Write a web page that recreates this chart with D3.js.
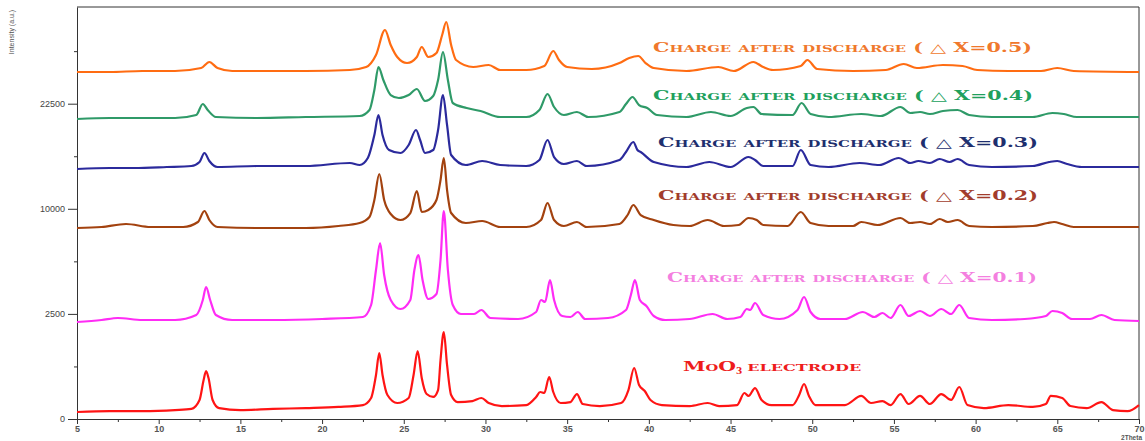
<!DOCTYPE html>
<html>
<head>
<meta charset="utf-8">
<script src="https://cdn.jsdelivr.net/npm/d3@7"></script>
<style>
  body { margin: 0; background: #fff; }
  svg { display: block; }
</style>
</head>
<body>
<div id="chart"></div>
<script>
// ---- data (2Theta, intensity a.u.) ----
let moo3Theta = [5, 7, 9, 11, 12, 12.5, 12.75, 12.9, 13.05, 13.3, 13.7, 15, 17, 19, 21, 22.5, 23, 23.3, 23.5, 23.7, 24, 24.6, 25.3, 25.6, 25.85, 26.1, 26.4, 26.8, 27.1, 27.25, 27.45, 27.65, 27.9, 28.3, 29.2, 29.75, 30.2, 31, 32.5, 33.1, 33.35, 33.6, 33.9, 34.15, 34.6, 35.2, 35.6, 35.95, 37, 38.3, 38.75, 39.1, 39.4, 39.75, 40.1, 40.8, 42.5, 43.6, 44.3, 45.4, 45.85, 46.1, 46.5, 46.9, 47.5, 48.8, 49.2, 49.5, 49.8, 50.2, 52, 53, 53.6, 54.3, 54.8, 55.4, 55.9, 56.6, 57.2, 57.9, 58.5, 59, 59.5, 60.5, 62, 63.5, 64.3, 64.6, 65.3, 65.8, 66.8, 67.7, 68.4, 69.3, 70];
let moo3I = [11, 14, 14, 18, 23, 82, 344, 521, 380, 82, 27, 18, 23, 27, 33, 44, 100, 438, 986, 438, 130, 58, 100, 438, 1046, 380, 141, 110, 190, 788, 1713, 660, 130, 65, 73, 100, 58, 38, 44, 110, 165, 153, 399, 165, 58, 65, 141, 51, 38, 58, 190, 589, 262, 177, 82, 44, 38, 58, 38, 44, 153, 120, 217, 82, 44, 44, 130, 277, 120, 44, 44, 120, 58, 73, 44, 141, 51, 120, 51, 141, 82, 232, 44, 27, 44, 33, 51, 120, 100, 38, 27, 65, 18, 14, 44];

let dx1Theta = [5, 6.5, 7.5, 9, 11, 12.3, 12.7, 12.9, 13.15, 13.5, 14.5, 17, 20, 22.5, 23, 23.3, 23.55, 23.8, 24.2, 24.8, 25.4, 25.65, 25.9, 26.15, 26.5, 27, 27.25, 27.45, 27.7, 28, 28.5, 29.3, 29.75, 30.3, 32, 33.1, 33.4, 33.65, 33.95, 34.2, 34.7, 35.2, 35.65, 36.1, 37.5, 38.6, 38.9, 39.15, 39.45, 39.85, 40.3, 41, 42.5, 43.9, 44.8, 45.6, 46, 46.2, 46.5, 47, 48, 49.1, 49.5, 49.9, 50.5, 52, 53.1, 53.8, 54.3, 54.8, 55.4, 55.9, 56.6, 57.2, 57.9, 58.5, 59, 59.6, 61, 63, 64.3, 64.7, 65.3, 65.9, 67, 67.7, 68.5, 70];
let dx1I = [2129, 2218, 2309, 2218, 2218, 2448, 3205, 3943, 3205, 2448, 2218, 2218, 2263, 2354, 2941, 5024, 7010, 4693, 3205, 2738, 3205, 5024, 6087, 4372, 3259, 3536, 5721, 9791, 5024, 2941, 2495, 2495, 2689, 2309, 2263, 2591, 3205, 3098, 4372, 3205, 2401, 2354, 2591, 2263, 2309, 2689, 3480, 4372, 3205, 2890, 2401, 2218, 2263, 2495, 2263, 2354, 2738, 2689, 3045, 2448, 2263, 2689, 3368, 2591, 2263, 2263, 2591, 2354, 2543, 2309, 2941, 2401, 2640, 2401, 2738, 2495, 2941, 2309, 2218, 2263, 2401, 2640, 2543, 2263, 2263, 2448, 2218, 2173];

let dx2Theta = [5, 6.5, 8, 9.5, 11.5, 12.4, 12.8, 13.1, 13.6, 16, 19, 21, 22.3, 22.9, 23.2, 23.5, 23.8, 24.2, 24.8, 25.4, 25.8, 26.1, 26.5, 27, 27.25, 27.45, 27.65, 27.9, 28.8, 29.8, 30.9, 32.5, 33.4, 33.8, 34.2, 34.8, 35.6, 36.2, 38.2, 38.7, 39.05, 39.5, 40.3, 41.5, 42.5, 43.6, 44.6, 45.5, 46.1, 46.6, 47, 48.5, 49.3, 49.9, 51, 52.5, 53, 54, 55.4, 56, 56.6, 57.2, 57.8, 58.3, 58.9, 59.6, 61, 63.5, 64.4, 64.8, 65.3, 66, 68, 70];
let dx2I = [8256, 8342, 8605, 8342, 8342, 8783, 9791, 8962, 8342, 8256, 8256, 8430, 8693, 9234, 10854, 13584, 10854, 9510, 8962, 9603, 11764, 9697, 9885, 10854, 12926, 15416, 11867, 9603, 8693, 8872, 8342, 8342, 8962, 10558, 8962, 8430, 8783, 8342, 8605, 9418, 10364, 9418, 8962, 8517, 8430, 8962, 8430, 8517, 9143, 8962, 8517, 8430, 9697, 8693, 8430, 8430, 8783, 8517, 9143, 8693, 8783, 8605, 9052, 8783, 8962, 8430, 8342, 8430, 8693, 8783, 8605, 8342, 8342, 8342];

let dx3Theta = [5, 7, 8.5, 10.5, 12, 12.5, 12.8, 13.1, 13.6, 16, 19, 21.7, 22.3, 22.8, 23.2, 23.45, 23.7, 24.1, 24.8, 25.3, 25.75, 26, 26.3, 26.8, 27.1, 27.4, 27.65, 27.9, 28.8, 29.8, 30.9, 32.5, 33.3, 33.8, 34.2, 34.8, 35.6, 36.2, 38.2, 38.6, 39.05, 39.3, 39.5, 40.3, 42.3, 43.7, 45, 46.1, 46.5, 47, 48.8, 49.3, 49.9, 51, 52.9, 54.1, 55.3, 56, 56.5, 57.2, 57.8, 58.4, 58.9, 59.6, 61, 63.5, 64.5, 65, 65.6, 66.5, 70];
let dx3I = [14144, 14257, 14257, 14371, 14485, 14947, 16012, 15064, 14371, 14485, 14485, 14831, 14600, 15416, 18253, 20914, 18253, 16376, 16012, 16989, 18901, 17615, 16012, 16376, 18901, 23756, 19560, 15772, 14600, 15064, 14600, 14485, 15180, 17615, 15534, 14715, 15064, 14485, 15180, 16133, 17364, 16376, 16133, 14947, 14371, 14947, 14371, 15534, 15180, 14485, 14485, 16376, 14600, 14371, 14831, 14600, 15416, 14831, 15064, 14831, 15298, 14947, 15298, 14600, 14371, 14485, 14947, 15064, 14715, 14371, 14371];

let dx4Theta = [5, 7, 9, 11, 12.3, 12.7, 13, 13.5, 16, 19, 22.3, 22.9, 23.2, 23.45, 23.75, 24.2, 24.7, 25.3, 25.8, 26.3, 26.8, 27.1, 27.4, 27.7, 28, 28.85, 29.7, 30.9, 32.5, 33.3, 33.8, 34.2, 34.8, 35.6, 36.3, 38.2, 38.6, 39, 39.4, 39.9, 40.5, 42.3, 43.8, 45, 46, 46.4, 46.9, 48.8, 49.35, 49.9, 51, 53, 54.2, 55.4, 56, 56.6, 57.2, 58, 58.9, 59.6, 61, 63.5, 64.7, 65.4, 66.2, 68, 70];
let dx4I = [20367, 20503, 20503, 20503, 20914, 22455, 21608, 20639, 20503, 20639, 20776, 21608, 24495, 28040, 26007, 23756, 23318, 23756, 24644, 22884, 23609, 26007, 30480, 26007, 22598, 21888, 21468, 20639, 20639, 21608, 23903, 22029, 20914, 21329, 20639, 21329, 22455, 23464, 22312, 21888, 20914, 20639, 21329, 20776, 21888, 22029, 21051, 20914, 22598, 21051, 20639, 21051, 20776, 22029, 21190, 21329, 21051, 21468, 21608, 20914, 20639, 20639, 21190, 21051, 20639, 20639, 20639];

let dx5Theta = [5, 7, 9, 11, 12.6, 13.1, 13.6, 14.5, 17, 19, 21.7, 22.7, 23.3, 23.85, 24.2, 24.6, 25.2, 25.8, 26.1, 26.5, 27, 27.35, 27.6, 27.9, 28.2, 29.25, 30.2, 30.9, 32.5, 33.6, 34.15, 34.5, 35, 36.5, 38.2, 38.8, 39.35, 39.8, 40.3, 42.3, 44.25, 45.2, 46.4, 47, 47.6, 49.3, 49.7, 50.3, 52.5, 54.5, 55.6, 56.4, 58, 59.2, 60.1, 62, 64, 65, 66, 70];
let dx5I = [27249, 27249, 27406, 27406, 27880, 28842, 27880, 27406, 27406, 27406, 27564, 28040, 29985, 34244, 31654, 29656, 28680, 29656, 31316, 29656, 30314, 33370, 35667, 31654, 29166, 28040, 28359, 27564, 27564, 28200, 30647, 29166, 28040, 27722, 28680, 29491, 29819, 28680, 27880, 27406, 28040, 27406, 28842, 28040, 27564, 28200, 29166, 27722, 27406, 27564, 28519, 27880, 28359, 28200, 27564, 27406, 27406, 27880, 27406, 27249];

let seriesNames = ["MoO3 electrode", "dx0.1", "dx0.2", "dx0.3", "dx0.4", "dx0.5"];
let seriesTheta = [moo3Theta, dx1Theta, dx2Theta, dx3Theta, dx4Theta, dx5Theta];
let seriesI = [moo3I, dx1I, dx2I, dx3I, dx4I, dx5I];
let lineColors = ["#ff1414", "#ff2cf5", "#a3420f", "#2b2a9c", "#2f9a68", "#ff6c12"];

let labelText = ["Charge after discharge ( \u25B3 X=0.5)", "Charge after discharge ( \u25B3 X=0.4)", "Charge after discharge ( \u25B3 X=0.3)", "Charge after discharge ( \u25B3 X=0.2)", "Charge after discharge ( \u25B3 X=0.1)"];
let labelAt = [[653, 30500], [653, 23000], [658, 16750], [658, 10860], [667, 4250]]; // [x px, intensity]
let labelWidth = [379, 380, 380, 380, 370];
let labelColors = ["#f0782c", "#20a05c", "#1e2f6e", "#a23c2c", "#f47fdf"];

let xTicks = [5, 10, 15, 20, 25, 30, 35, 40, 45, 50, 55, 60, 65, 70];
let yTicks = [0, 625, 2500, 5625, 10000, 15625, 22500, 30625];
let yTickLabels = ["0", "", "2500", "", "10000", "", "22500", ""];

// ---- layout ----
let width = 1145;
let height = 441;
let plotL = 77, plotR = 1139, plotT = 7, plotB = 419;

var svg = d3.select("#chart").append("svg")
    .attr("width", width)
    .attr("height", height);

var xScale = d3.scaleLinear()
    .domain([5, 70])
    .range([plotL, plotR]);

var yScale = d3.scaleSqrt()
    .domain([0, 38416])
    .range([plotB, plotT]);

// frame top + right
svg.append("path")
    .attr("d", `M${plotL},${plotT}H${plotR}V${plotB}`)
    .attr("fill", "none")
    .attr("stroke", "#333")
    .attr("stroke-width", 1);

// x axis
var xAxis = svg.append("g")
    .attr("transform", `translate(0,${plotB})`)
    .call(d3.axisBottom(xScale).tickValues(xTicks).tickSize(5).tickPadding(2).tickFormat(d3.format("d")));
svg.append("g")
    .attr("transform", `translate(0,${plotB})`)
    .call(d3.axisBottom(xScale).tickValues(xTicks.slice(0, -1).map(d => d + 2.5)).tickSize(3).tickFormat(""))
    .call(g => g.select(".domain").remove());

// y axis
var yAxis = svg.append("g")
    .attr("transform", `translate(${plotL},0)`)
    .call(d3.axisLeft(yScale).tickValues(yTicks).tickSize(0).tickPadding(12)
        .tickFormat((d, i) => yTickLabels[i]));
yAxis.selectAll(".tick line")
    .attr("x2", (d, i) => yTickLabels[i] ? -9 : -3);

svg.selectAll(".domain").attr("stroke", "#333");
svg.selectAll(".tick line").attr("stroke", "#333");
svg.selectAll(".tick text")
    .attr("fill", "#444")
    .attr("font-family", "Liberation Sans, Arial, sans-serif")
    .attr("font-size", 9);
xAxis.selectAll(".tick text").attr("font-weight", "bold").attr("fill", "#555");

// axis titles
svg.append("text")
    .attr("transform", "translate(14,32) rotate(-90)")
    .attr("text-anchor", "middle")
    .attr("font-family", "Liberation Sans, Arial, sans-serif")
    .attr("font-size", 7)
    .attr("fill", "#555")
    .text("Intensity (a.u.)");

svg.append("text")
    .attr("x", plotR + 3)
    .attr("y", 440)
    .attr("text-anchor", "end")
    .attr("font-family", "Liberation Sans, Arial, sans-serif")
    .attr("font-size", 6.5)
    .attr("font-weight", "bold")
    .attr("fill", "#555")
    .text("2Theta");

// patterns
var line = d3.line()
    .x(d => xScale(d[0]))
    .y(d => yScale(d[1]))
    .curve(d3.curveMonotoneX);

for (let s = 0; s < seriesNames.length; s++) {
    let pts = seriesTheta[s].map((t, i) => [t, seriesI[s][i]]);
    svg.append("path")
        .datum(pts)
        .attr("fill", "none")
        .attr("stroke", lineColors[s])
        .attr("stroke-width", 2.2)
        .attr("stroke-linejoin", "round")
        .attr("d", line);
}

// labels
let labelFont = "DejaVu Serif, serif";
for (let k = 0; k < labelText.length; k++) {
    svg.append("text")
        .attr("x", labelAt[k][0])
        .attr("y", yScale(labelAt[k][1]))
        .attr("font-family", labelFont)
        .attr("font-weight", "bold")
        .attr("font-size", 12.5)
        .attr("font-variant", "small-caps")
        .attr("textLength", labelWidth[k])
        .attr("lengthAdjust", "spacingAndGlyphs")
        .attr("fill", labelColors[k])
        .text(labelText[k]);
}

var moo3Label = svg.append("text")
    .attr("x", 683)
    .attr("y", yScale(521))
    .attr("font-family", labelFont)
    .attr("font-weight", "bold")
    .attr("font-size", 12.5)
    .attr("font-variant", "small-caps")
    .attr("fill", "#ee1c1c");
moo3Label.append("tspan").attr("textLength", 53).attr("lengthAdjust", "spacingAndGlyphs").text("MoO");
moo3Label.append("tspan").attr("font-size", 9).attr("dy", 3).text("3");
moo3Label.append("tspan").attr("dy", -3).attr("dx", 5).attr("textLength", 114).attr("lengthAdjust", "spacingAndGlyphs").text("electrode");
</script>
</body>
</html>
